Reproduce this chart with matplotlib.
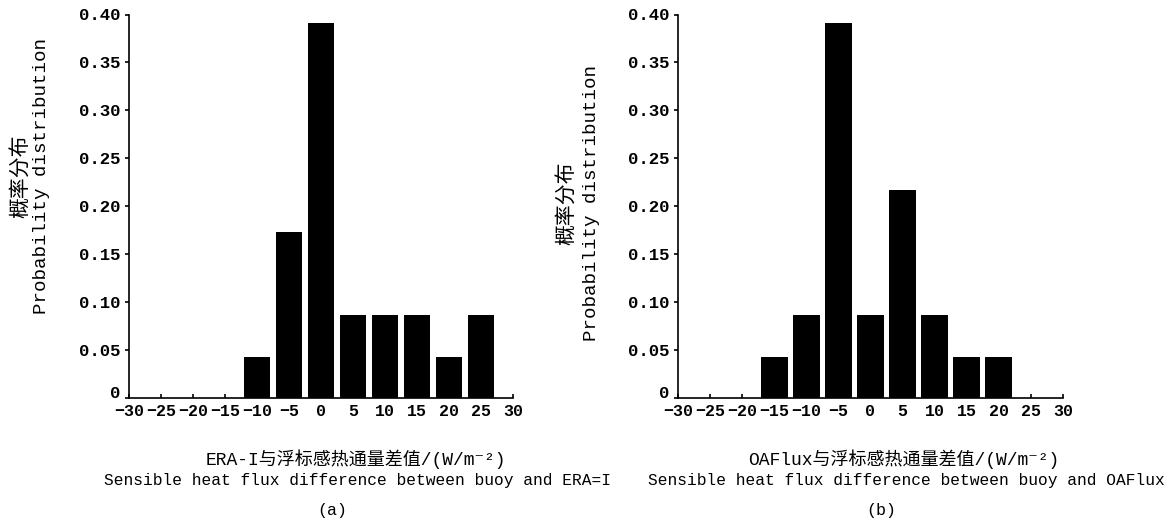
import matplotlib
matplotlib.use("Agg")
import matplotlib.pyplot as plt
from matplotlib.transforms import ScaledTranslation

# ---- data ----
centers_a = [-10, -5, 0, 5, 10, 15, 20, 25]
probs_a = [0.043, 0.173, 0.391, 0.087, 0.087, 0.087, 0.043, 0.087]

centers_b = [-15, -10, -5, 0, 5, 10, 15, 20]
probs_b = [0.043, 0.087, 0.391, 0.087, 0.217, 0.087, 0.043, 0.043]

xticks = [-30, -25, -20, -15, -10, -5, 0, 5, 10, 15, 20, 25, 30]
xtick_labels = ["\u221230", "\u221225", "\u221220", "\u221215", "\u221210", "\u22125",
                "0", "5", "10", "15", "20", "25", "30"]
yticks = [0, 0.05, 0.10, 0.15, 0.20, 0.25, 0.30, 0.35, 0.40]
ytick_labels = ["0", "0.05", "0.10", "0.15", "0.20", "0.25", "0.30", "0.35", "0.40"]

ylabel_cn = "概率分布"
ylabel_en = "Probability distribution"
xlabel_cn_a = "ERA-I与浮标感热通量差值/(W/m\u207b\u00b2)"
xlabel_en_a = "Sensible heat flux difference between buoy and ERA=I"
xlabel_cn_b = "OAFlux与浮标感热通量差值/(W/m\u207b\u00b2)"
xlabel_en_b = "Sensible heat flux difference between buoy and OAFlux"
panel_a = "(a)"
panel_b = "(b)"

FAM = ["Liberation Mono", "Noto Sans CJK SC", "DejaVu Sans"]
plt.rcParams["font.family"] = FAM

W, H = 1176, 525
fig = plt.figure(figsize=(W / 100, H / 100), dpi=100)


def px_rect(x0, x1, ytop, ybot):
    return [x0 / W, 1 - ybot / H, (x1 - x0) / W, (ybot - ytop) / H]


ax_a = fig.add_axes(px_rect(129, 513, 14.5, 398))
ax_b = fig.add_axes(px_rect(678, 1063, 14.5, 398))

for ax, cx, pv in [(ax_a, centers_a, probs_a), (ax_b, centers_b, probs_b)]:
    ax.bar(cx, pv, width=4.2, color="black", edgecolor="none")
    ax.set_xlim(-30, 30)
    ax.set_ylim(0, 0.40)
    ax.set_xticks(xticks)
    ax.set_xticklabels(xtick_labels, fontweight="bold")
    ax.set_yticks(yticks)
    ax.set_yticklabels(ytick_labels, fontweight="bold")
    for s in ("top", "right"):
        ax.spines[s].set_visible(False)
    for s in ("left", "bottom"):
        ax.spines[s].set_linewidth(1.2)
    ax.tick_params(axis="x", direction="in", length=3, width=1.2, pad=4, labelsize=12)
    ax.tick_params(axis="y", direction="out", length=3, width=1.2, pad=3, labelsize=12.5)
    lab0 = ax.get_yticklabels()[0]
    lab0.set_transform(lab0.get_transform() + ScaledTranslation(0, 4 / 72, fig.dpi_scale_trans))


def fx(px):
    return px / W


def fy(py):
    return 1 - py / H


# y labels
fig.text(fx(21), fy(176), ylabel_cn, rotation=90, ha="center", va="center", fontsize=15)
fig.text(fx(42), fy(176), ylabel_en, rotation=90, ha="center", va="center", fontsize=13.8)
fig.text(fx(567), fy(203), ylabel_cn, rotation=90, ha="center", va="center", fontsize=15)
fig.text(fx(591), fy(203), ylabel_en, rotation=90, ha="center", va="center", fontsize=13.8)

# x labels
fig.text(fx(356), fy(459), xlabel_cn_a, ha="center", va="center", fontsize=13)
fig.text(fx(357), fy(481), xlabel_en_a, ha="center", va="center", fontsize=11.7)
fig.text(fx(332), fy(511), panel_a, ha="center", va="center", fontsize=12)

fig.text(fx(904), fy(459), xlabel_cn_b, ha="center", va="center", fontsize=13)
fig.text(fx(906), fy(481), xlabel_en_b, ha="center", va="center", fontsize=11.7)
fig.text(fx(881), fy(511), panel_b, ha="center", va="center", fontsize=12)

fig.savefig("out.png", dpi=100)
